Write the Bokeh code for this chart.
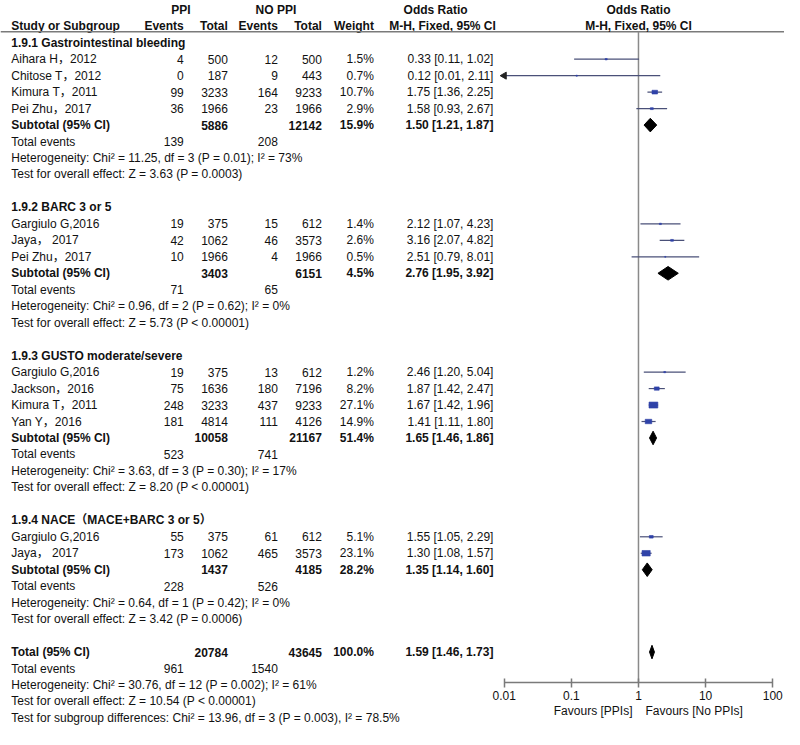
import math
from bokeh.plotting import figure
from bokeh.models import Range1d, LogScale, LogAxis, FixedTicker, CustomJSTickFormatter
from bokeh.core.properties import value
from bokeh.embed import file_html
from bokeh.resources import INLINE

# ---------------- data ----------------
groups = ["1.9.1 Gastrointestinal bleeding", "1.9.2 BARC 3 or 5",
          "1.9.3 GUSTO moderate/severe", "1.9.4 NACE（MACE+BARC 3 or 5）"]
study = ["Aihara H，2012", "Chitose T，2012", "Kimura T，2011", "Pei Zhu，2017",
         "Gargiulo G,2016", "Jaya， 2017", "Pei Zhu，2017",
         "Gargiulo G,2016", "Jackson，2016", "Kimura T，2011", "Yan Y，2016",
         "Gargiulo G,2016", "Jaya， 2017"]
group_of = [0, 0, 0, 0, 1, 1, 1, 2, 2, 2, 2, 3, 3]
ev_ppi = [4, 0, 99, 36, 19, 42, 10, 19, 75, 248, 181, 55, 173]
tot_ppi = [500, 187, 3233, 1966, 375, 1062, 1966, 375, 1636, 3233, 4814, 375, 1062]
ev_no = [12, 9, 164, 23, 15, 46, 4, 13, 180, 437, 111, 61, 465]
tot_no = [500, 443, 9233, 1966, 612, 3573, 1966, 612, 7196, 9233, 4126, 612, 3573]
weight = [1.5, 0.7, 10.7, 2.9, 1.4, 2.6, 0.5, 1.2, 8.2, 27.1, 14.9, 5.1, 23.1]
or_est = [0.33, 0.12, 1.75, 1.58, 2.12, 3.16, 2.51, 2.46, 1.87, 1.67, 1.41, 1.55, 1.30]
or_lo = [0.11, 0.01, 1.36, 0.93, 1.07, 2.07, 0.79, 1.20, 1.42, 1.42, 1.11, 1.05, 1.08]
or_hi = [1.02, 2.11, 2.25, 2.67, 4.23, 4.82, 8.01, 5.04, 2.47, 1.96, 1.80, 2.29, 1.57]

sub_tot_ppi = [5886, 3403, 10058, 1437]
sub_tot_no = [12142, 6151, 21167, 4185]
sub_weight = [15.9, 4.5, 51.4, 28.2]
sub_or = [1.50, 2.76, 1.65, 1.35]
sub_lo = [1.21, 1.95, 1.46, 1.14]
sub_hi = [1.87, 3.92, 1.86, 1.60]
sub_ev_ppi = [139, 71, 523, 228]
sub_ev_no = [208, 65, 741, 526]
sub_het = ["Heterogeneity: Chi² = 11.25, df = 3 (P = 0.01); I² = 73%",
           "Heterogeneity: Chi² = 0.96, df = 2 (P = 0.62); I² = 0%",
           "Heterogeneity: Chi² = 3.63, df = 3 (P = 0.30); I² = 17%",
           "Heterogeneity: Chi² = 0.64, df = 1 (P = 0.42); I² = 0%"]
sub_z = ["Test for overall effect: Z = 3.63 (P = 0.0003)",
         "Test for overall effect: Z = 5.73 (P < 0.00001)",
         "Test for overall effect: Z = 8.20 (P < 0.00001)",
         "Test for overall effect: Z = 3.42 (P = 0.0006)"]

total_tot_ppi = 20784
total_tot_no = 43645
total_weight = 100.0
total_or, total_lo, total_hi = 1.59, 1.46, 1.73
total_ev_ppi = 961
total_ev_no = 1540
total_het = "Heterogeneity: Chi² = 30.76, df = 12 (P = 0.002); I² = 61%"
total_z = "Test for overall effect: Z = 10.54 (P < 0.00001)"
subgroup_diff = "Test for subgroup differences: Chi² = 13.96, df = 3 (P = 0.003), I² = 78.5%"

axis_ticks = [0.01, 0.1, 1, 10, 100]
favour_left = "Favours [PPIs]"
favour_right = "Favours [No PPIs]"

# ---------------- layout ----------------
W, H = 784, 729
SX, SY = W / 800.0, H / 745.0      # reference image -> figure scale
FONT = "'Liberation Sans', 'Noto Sans CJK SC', sans-serif"
FS = "12px"
DEC = 68.5 * SX                    # px per decade
X_ONE = 651 * SX                   # x of OR = 1

def ry(r):
    return SY * (9.5 + 16.83 * r)

def fx(x):
    return SX * x

X_NAME, X_EVP, X_TOTP, X_EVN, X_TOTN, X_W, X_OR = [fx(v) for v in (11, 187, 232, 283, 328, 381, 503)]
RULE_Y = SY * 32
AXIS_Y = SY * 697
FAV_Y = SY * 726

p = figure(width=W, height=H, output_backend="svg", toolbar_location=None,
           x_range=Range1d(0, W), y_range=Range1d(H, 0),
           extra_x_ranges={"or": Range1d(10 ** (-X_ONE / DEC), 10 ** ((W - X_ONE) / DEC))},
           extra_x_scales={"or": LogScale()},
           min_border=0, x_axis_location=None, y_axis_location=None)
p.outline_line_color = None
p.grid.visible = False
p.background_fill_color = "white"
p.border_fill_color = "white"

texts = {}

def T(x, r, s, align="left", bold=False):
    key = align + ("_b" if bold else "")
    d = texts.setdefault(key, ([], [], []))
    d[0].append(x); d[1].append(ry(r)); d[2].append(str(s))

# header
T(fx(184), 0, "PPI", "center", True)
T(fx(281), 0, "NO PPI", "center", True)
T(fx(444), 0, "Odds Ratio", "center", True)
T(X_NAME, 1, "Study or Subgroup", "left", True)
T(X_EVP, 1, "Events", "right", True)
T(X_TOTP, 1, "Total", "right", True)
T(X_EVN, 1, "Events", "right", True)
T(X_TOTN, 1, "Total", "right", True)
T(X_W, 1, "Weight", "right", True)
T(fx(451), 1, "M-H, Fixed, 95% CI", "center", True)

study_rows = []
sub_rows = []
r = 2
for g, gname in enumerate(groups):
    T(X_NAME, r, gname, "left", True)
    r += 1
    for i in range(len(study)):
        if group_of[i] != g:
            continue
        T(X_NAME, r, study[i])
        T(X_EVP, r, ev_ppi[i], "right")
        T(X_TOTP, r, tot_ppi[i], "right")
        T(X_EVN, r, ev_no[i], "right")
        T(X_TOTN, r, tot_no[i], "right")
        T(X_W, r, f"{weight[i]:.1f}%", "right")
        T(X_OR, r, f"{or_est[i]:.2f} [{or_lo[i]:.2f}, {or_hi[i]:.2f}]", "right")
        study_rows.append(r)
        r += 1
    T(X_NAME, r, "Subtotal (95% CI)", "left", True)
    T(X_TOTP, r, sub_tot_ppi[g], "right", True)
    T(X_TOTN, r, sub_tot_no[g], "right", True)
    T(X_W, r, f"{sub_weight[g]:.1f}%", "right", True)
    T(X_OR, r, f"{sub_or[g]:.2f} [{sub_lo[g]:.2f}, {sub_hi[g]:.2f}]", "right", True)
    sub_rows.append(r)
    r += 1
    T(X_NAME, r, "Total events")
    T(X_EVP, r, sub_ev_ppi[g], "right")
    T(X_EVN, r, sub_ev_no[g], "right")
    r += 1
    T(X_NAME, r, sub_het[g]); r += 1
    T(X_NAME, r, sub_z[g]); r += 1
    r += 1

total_row = r
T(X_NAME, r, "Total (95% CI)", "left", True)
T(X_TOTP, r, total_tot_ppi, "right", True)
T(X_TOTN, r, total_tot_no, "right", True)
T(X_W, r, f"{total_weight:.1f}%", "right", True)
T(X_OR, r, f"{total_or:.2f} [{total_lo:.2f}, {total_hi:.2f}]", "right", True)
r += 1
T(X_NAME, r, "Total events")
T(X_EVP, r, total_ev_ppi, "right")
T(X_EVN, r, total_ev_no, "right")
r += 1
T(X_NAME, r, total_het); r += 1
T(X_NAME, r, total_z); r += 1
T(X_NAME, r, subgroup_diff)

for key, d in texts.items():
    align = key.split("_")[0]
    bold = key.endswith("_b")
    p.text(x=d[0], y=d[1], text=d[2], text_align=align, text_baseline="middle",
           text_font=value(FONT), text_font_size=FS,
           text_font_style="bold" if bold else "normal", text_color="#111111")

# header rule
p.segment(x0=[0], y0=[RULE_Y], x1=[W], y1=[RULE_Y], line_color="#7a7a7a", line_width=1.5)

# forest header
p.text(x=[1, 1], y=[ry(0), ry(1)], text=["Odds Ratio", "M-H, Fixed, 95% CI"],
       x_range_name="or", text_align="center", text_baseline="middle",
       text_font=value(FONT), text_font_size=FS, text_font_style="bold", text_color="#111111")

# null line
p.segment(x0=[1], y0=[RULE_Y], x1=[1], y1=[AXIS_Y], x_range_name="or",
          line_color="#8a8a8a", line_width=1.5)

# study CIs and squares
ys = [ry(rr) for rr in study_rows]
xmin = axis_ticks[0]
lo_clip = [max(v, xmin) for v in or_lo]
p.segment(x0=lo_clip, y0=ys, x1=or_hi, y1=ys, x_range_name="or",
          line_color="#4a5078", line_width=1.2)
p.rect(x=or_est, y=ys, width=[1.7 * math.sqrt(w) for w in weight],
       height=[1.15 * math.sqrt(w) for w in weight],
       width_units="screen", height_units="screen", x_range_name="or",
       fill_color="#2f42a8", line_color="#2f42a8", line_width=0.6)
arr_x = [xmin for v in or_lo if v <= xmin]
arr_y = [ys[i] for i, v in enumerate(or_lo) if v <= xmin]
if arr_x:
    p.scatter(x=arr_x, y=arr_y, marker="triangle", size=7, angle=math.pi / 2,
              x_range_name="or", fill_color="#222222", line_color="#222222")

# diamonds
HALF = 6.8
dx, dy = [], []
for g in range(len(groups)):
    yc = ry(sub_rows[g])
    dx.append([sub_lo[g], sub_or[g], sub_hi[g], sub_or[g]])
    dy.append([yc, yc - HALF, yc, yc + HALF])
yc = ry(total_row)
dx.append([total_lo, total_or, total_hi, total_or])
dy.append([yc, yc - HALF, yc, yc + HALF])
p.patches(xs=dx, ys=dy, x_range_name="or", fill_color="black", line_color="black")

# axis
ax = LogAxis(x_range_name="or", ticker=FixedTicker(ticks=axis_ticks, minor_ticks=[]),
             formatter=CustomJSTickFormatter(code="return tick.toString()"),
             bounds=(axis_ticks[0], axis_ticks[-1]), fixed_location=AXIS_Y)
ax.axis_line_color = "#7a7a7a"
ax.axis_line_width = 1.5
ax.major_tick_line_color = "#7a7a7a"
ax.major_tick_line_width = 1.5
ax.major_tick_in = 4
ax.major_tick_out = 5
ax.minor_tick_line_color = None
ax.major_label_standoff = 3
ax.major_label_text_font = FONT
ax.major_label_text_font_size = FS
ax.major_label_text_color = "#111111"
p.add_layout(ax, "below")

p.text(x=[1, 1], y=[FAV_Y, FAV_Y], text=[favour_left, favour_right], x_offset=[-6, 7],
       x_range_name="or", text_align=["right", "left"], text_baseline="middle",
       text_font=value(FONT), text_font_size=FS, text_color="#111111")

open("out.html", "w").write(file_html(p, INLINE))
